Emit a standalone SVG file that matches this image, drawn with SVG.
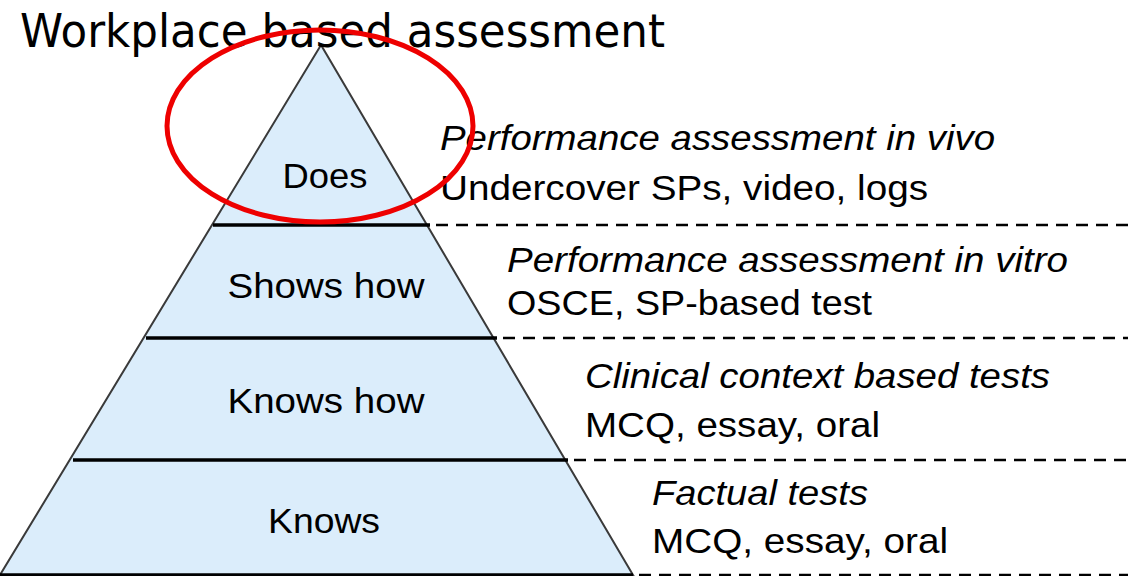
<svg xmlns="http://www.w3.org/2000/svg" width="1128" height="576" viewBox="0 0 1128 576">
<style>
.lvl{font-family:"Liberation Sans",Arial,sans-serif;font-size:35px;fill:#000;text-anchor:middle}
.desc{font-family:"Liberation Sans",Arial,sans-serif;font-size:35px;fill:#000}
.it{font-style:italic}
.band{stroke:#000;stroke-width:3.5}
.dash{stroke:#000;stroke-width:2.5;stroke-dasharray:12 8}
</style>
<rect width="1128" height="576" fill="#fff"/>
<g id="pyramid">
<polygon points="321,45 0,575 633,575" fill="#dbedfb" stroke="#3a3a3a" stroke-width="2"/>
</g>
<g id="connectors">
<line class="band" x1="213" y1="225" x2="430" y2="225"/>
<line class="band" x1="146" y1="338" x2="497" y2="338"/>
<line class="band" x1="73" y1="460" x2="568" y2="460"/>
<line class="band" x1="0" y1="575" x2="633" y2="575"/>
<line class="dash" x1="436" y1="225" x2="1128" y2="225"/>
<line class="dash" x1="503" y1="338" x2="1128" y2="338"/>
<line class="dash" x1="574" y1="460" x2="1128" y2="460"/>
<line class="dash" x1="639" y1="575" x2="1128" y2="575"/>
</g>
<g id="does"><text class="lvl" x="325" y="188" textLength="85" lengthAdjust="spacingAndGlyphs">Does</text></g>
<g id="shows-how"><text class="lvl" x="326" y="298" textLength="197" lengthAdjust="spacingAndGlyphs">Shows how</text></g>
<g id="knows-how"><text class="lvl" x="326" y="413" textLength="197" lengthAdjust="spacingAndGlyphs">Knows how</text></g>
<g id="knows"><text class="lvl" x="324" y="533" textLength="112" lengthAdjust="spacingAndGlyphs">Knows</text></g>
<g id="desc-does">
<text class="desc it" x="440" y="150" textLength="555" lengthAdjust="spacingAndGlyphs">Performance assessment in vivo</text>
<text class="desc" x="440" y="200" textLength="488" lengthAdjust="spacingAndGlyphs">Undercover SPs, video, logs</text>
</g>
<g id="desc-shows">
<text class="desc it" x="507" y="272" textLength="561" lengthAdjust="spacingAndGlyphs">Performance assessment in vitro</text>
<text class="desc" x="507" y="315" textLength="365" lengthAdjust="spacingAndGlyphs">OSCE, SP-based test</text>
</g>
<g id="desc-knowshow">
<text class="desc it" x="585" y="388" textLength="465" lengthAdjust="spacingAndGlyphs">Clinical context based tests</text>
<text class="desc" x="585" y="437" textLength="295" lengthAdjust="spacingAndGlyphs">MCQ, essay, oral</text>
</g>
<g id="desc-knows">
<text class="desc it" x="652" y="505" textLength="216" lengthAdjust="spacingAndGlyphs">Factual tests</text>
<text class="desc" x="652" y="553" textLength="296" lengthAdjust="spacingAndGlyphs">MCQ, essay, oral</text>
</g>
<g id="title">
<text x="20" y="47" font-family="'DejaVu Sans',sans-serif" font-size="46" fill="#000" textLength="645" lengthAdjust="spacingAndGlyphs">Workplace based assessment</text>
</g>
<g id="highlight">
<ellipse cx="320" cy="126" rx="153" ry="96" fill="none" stroke="#ee0000" stroke-width="5"/>
</g>
</svg>
